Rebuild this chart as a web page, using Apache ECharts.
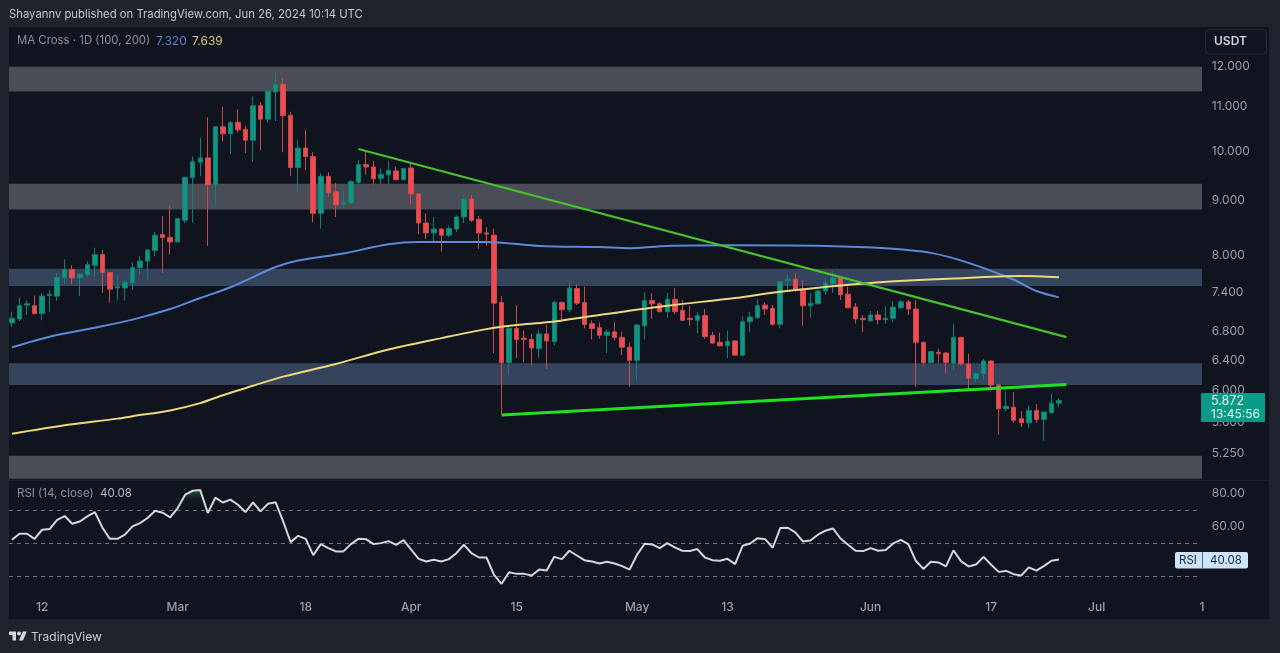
<!DOCTYPE html>
<html>
<head>
<meta charset="utf-8">
<title>MA Cross 1D</title>
<style>
    html, body { margin: 0; padding: 0; background: #1e222a; }
    #mychart { width: 1280px; height: 653px; }
</style>
<script src="https://cdn.jsdelivr.net/npm/echarts@6/dist/echarts.min.js"></script>
</head>
<body>
<div id="mychart"></div>
<script>
// daily candles from Feb 8 2024, one row per day: open, close, low, high
var candles = [
    [6.93,7.00,6.87,7.10],[6.99,7.19,6.96,7.32],[7.20,7.22,7.05,7.28],[7.19,7.07,7.06,7.35],[7.07,7.34,6.97,7.39],
    [7.35,7.37,7.10,7.44],[7.34,7.64,7.27,7.71],[7.63,7.77,7.53,7.94],[7.77,7.63,7.53,7.84],[7.63,7.69,7.34,7.71],
    [7.68,7.85,7.65,7.91],[7.84,8.02,7.65,8.14],[8.02,7.72,7.39,8.10],[7.72,7.45,7.24,7.72],[7.47,7.49,7.27,7.68],
    [7.47,7.56,7.27,7.60],[7.55,7.80,7.44,7.89],[7.80,7.91,7.68,7.99],[7.91,8.10,7.60,8.10],[8.09,8.36,7.99,8.42],
    [8.37,8.32,7.71,8.71],[8.32,8.24,8.02,8.90],[8.24,8.66,8.24,8.68],[8.63,9.46,8.58,9.46],[9.45,9.78,8.58,9.89],
    [9.77,9.86,9.49,10.30],[9.86,9.31,8.17,10.75],[9.31,10.54,8.91,10.54],[10.54,10.38,10.21,11.00],[10.38,10.63,9.94,10.67],
    [10.64,10.47,10.41,10.94],[10.48,10.24,9.96,10.56],[10.24,11.02,9.78,11.24],[11.02,10.71,10.02,11.10],[10.71,11.37,10.63,11.42],
    [11.35,11.54,10.67,11.84],[11.54,10.79,9.98,11.69],[10.80,9.66,9.49,10.88],[9.66,10.07,9.18,10.24],[10.07,9.89,9.60,10.46],
    [9.89,8.76,8.59,9.98],[8.76,9.48,8.48,9.54],[9.48,9.16,9.08,9.56],[9.17,8.92,8.69,9.34],[8.93,8.96,8.87,9.19],
    [8.95,9.37,8.94,9.41],[9.36,9.72,9.31,9.82],[9.72,9.67,9.51,9.99],[9.67,9.43,9.31,9.80],[9.44,9.52,9.33,9.64],
    [9.51,9.60,9.33,9.80],[9.59,9.41,9.40,9.68],[9.41,9.64,9.41,9.65],[9.65,9.13,8.94,9.74],[9.13,8.58,8.38,9.14],
    [8.58,8.40,8.29,8.76],[8.40,8.47,8.24,8.69],[8.47,8.36,8.07,8.49],[8.36,8.48,8.32,8.53],[8.47,8.69,8.42,8.72],
    [8.69,9.03,8.58,9.11],[9.03,8.63,8.60,9.11],[8.65,8.40,8.12,8.71],[8.40,8.38,8.17,8.50],[8.36,7.23,6.50,8.48],
    [7.24,6.37,5.70,7.34],[6.37,6.85,6.20,6.90],[6.85,6.69,6.43,7.20],[6.71,6.69,6.37,6.82],[6.69,6.57,6.33,6.77],
    [6.56,6.77,6.43,6.83],[6.77,6.67,6.28,6.90],[6.66,7.24,6.61,7.27],[7.24,7.13,6.98,7.26],[7.13,7.47,7.09,7.57],
    [7.46,7.23,7.20,7.53],[7.24,6.91,6.85,7.49],[6.92,6.85,6.69,6.97],[6.86,6.75,6.70,6.94],[6.75,6.80,6.50,6.84],
    [6.80,6.72,6.68,6.94],[6.72,6.58,6.47,6.80],[6.58,6.40,6.05,6.65],[6.40,6.90,6.14,6.92],[6.89,7.27,6.69,7.40],
    [7.27,7.22,6.99,7.39],[7.22,7.10,7.09,7.25],[7.10,7.29,7.01,7.39],[7.29,7.10,7.06,7.47],[7.12,6.97,6.96,7.28],
    [7.00,6.98,6.89,7.19],[6.97,7.04,6.78,7.09],[7.04,6.73,6.70,7.14],[6.75,6.64,6.63,6.80],[6.65,6.60,6.59,6.79],
    [6.60,6.66,6.43,6.82],[6.67,6.47,6.46,6.68],[6.47,6.95,6.46,7.03],[6.95,7.02,6.80,7.10],[7.01,7.19,6.99,7.29],
    [7.20,7.14,7.05,7.24],[7.15,6.91,6.89,7.20],[6.91,7.57,6.85,7.57],[7.59,7.61,7.44,7.68],[7.61,7.45,7.41,7.71],
    [7.45,7.19,6.89,7.60],[7.19,7.23,7.01,7.39],[7.22,7.42,7.22,7.44],[7.42,7.55,7.36,7.63],[7.54,7.63,7.39,7.75],
    [7.64,7.36,7.28,7.66],[7.37,7.16,7.15,7.49],[7.17,6.99,6.92,7.23],[7.00,6.98,6.80,7.05],[6.96,7.05,6.96,7.11],
    [7.05,6.98,6.91,7.11],[6.98,7.00,6.92,7.18],[7.00,7.17,6.94,7.26],[7.16,7.25,7.14,7.28],[7.25,7.14,7.05,7.28],
    [7.14,6.65,6.05,7.28],[6.65,6.37,6.33,6.66],[6.37,6.52,6.36,6.53],[6.51,6.49,6.36,6.56],[6.50,6.37,6.23,6.51],
    [6.36,6.72,6.27,6.92],[6.72,6.35,6.33,6.73],[6.35,6.16,6.01,6.49],[6.15,6.22,6.11,6.24],[6.22,6.39,6.14,6.42],
    [6.39,6.07,6.00,6.40],[6.07,5.77,5.46,6.09],[5.77,5.80,5.74,5.99],[5.79,5.63,5.60,5.98],[5.65,5.60,5.55,5.74],
    [5.60,5.75,5.54,5.81],[5.75,5.64,5.60,5.83],[5.64,5.73,5.39,5.73],[5.72,5.84,5.71,5.96],[5.84,5.872,5.79,5.90]
];

var rsi = [
    52.0,55.7,55.7,52.6,58.1,58.5,64.1,66.4,61.7,63.1,66.2,68.8,59.5,52.6,52.6,55.1,60.1,62.1,65.2,69.6,
    68.4,65.6,71.2,79.3,81.7,82.1,68.2,77.5,74.6,76.3,73.2,68.8,74.6,69.2,73.8,74.8,63.1,50.6,54.4,52.6,
    42.7,49.4,47.0,45.0,45.0,49.4,52.6,52.4,49.4,50.0,51.2,49.0,51.8,46.0,40.5,38.9,39.9,38.9,40.3,43.9,
    49.0,43.9,41.3,41.3,30.8,25.4,32.4,31.4,31.4,30.4,34.0,33.4,41.7,40.3,45.4,42.5,39.7,38.9,37.7,38.7,
    37.7,36.1,34.0,43.0,49.6,49.2,47.0,50.0,47.4,45.4,45.2,46.4,41.3,39.7,39.3,40.5,37.3,48.4,49.8,53.0,
    52.4,47.2,59.1,59.3,56.5,51.0,51.6,55.1,57.5,58.9,52.8,49.0,45.4,45.2,47.0,45.4,45.8,49.8,52.0,49.4,
    39.3,34.4,38.7,38.3,35.9,45.6,39.1,35.9,37.1,41.7,36.9,32.6,33.2,31.2,30.4,35.3,33.4,36.1,39.3,40.08
];

var ma100Index = [0,5,11,16,21,25,29,35,38,44,50,54,63,70,78,82,87,96,108,116,122,127,133,136,139];
var ma100 = [6.58,6.73,6.86,6.98,7.14,7.31,7.48,7.81,7.92,8.04,8.20,8.24,8.24,8.17,8.15,8.13,8.17,8.18,8.17,8.13,8.05,7.88,7.60,7.42,7.32];
var ma200Index = [0,7,14,16,21,25,28,32,36,43,50,57,63,67,71,78,87,96,102,114,125,134,139];
var ma200 = [5.47,5.57,5.65,5.68,5.75,5.84,5.94,6.06,6.18,6.35,6.55,6.71,6.84,6.90,6.94,7.05,7.19,7.31,7.41,7.55,7.62,7.66,7.64];

// hand drawn trend lines, candle number and price at both ends
var upperTrendIndex = [46, 140];
var upperTrend = [10.05, 6.725];
var lowerTrendIndex = [65, 140];
var lowerTrend = [5.693, 6.076];

// supply and demand zones
var zoneTop = [11.98, 9.33, 7.78, 6.36, 5.22];
var zoneBottom = [11.36, 8.83, 7.50, 6.07, 4.97];
var zoneColors = ['#4a4d55', '#4a4d55', '#35445c', '#35445c', '#4a4d55'];

var priceTicks = [12, 11, 10, 9, 8, 7.4, 6.8, 6.4, 6, 5.6, 5.25];
var rsiTicks = [60, 80];
var rsiGuides = [70, 50, 30];
var dateTicks = ['2024-02-12', '2024-03-01', '2024-03-18', '2024-04-01', '2024-04-15', '2024-05-01', '2024-05-13', '2024-06-01', '2024-06-17', '2024-07-01', '2024-07-15'];
var dateLabels = ['12', 'Mar', '18', 'Apr', '15', 'May', '13', 'Jun', '17', 'Jul', '1'];

var GREEN = '#0f9582';
var RED = '#f04c4f';
var FONT = 'Inter, "Noto Sans", sans-serif';

var days = [];
for (var d = 0; d < 159; d++) {
    days.push(new Date(Date.UTC(2024, 1, 8 + d)).toISOString().slice(0, 10));
}

function pairs(index, values) {
    return index.map(function (n, k) {
        return [days[n], values[k]];
    });
}

function renderZone(params, api) {
    var grid = params.coordSys;
    var y0 = api.coord([0, api.value(0)])[1];
    var y1 = api.coord([0, api.value(1)])[1];
    return {
        type: 'rect',
        shape: {x: grid.x + 0.8, y: y0, width: grid.width - 4.6, height: y1 - y0},
        style: {fill: zoneColors[params.dataIndex]}
    };
}

function renderGuide(params, api) {
    var grid = params.coordSys;
    var y = Math.round(api.coord([0, api.value(0)])[1]) + 0.5;
    return {
        type: 'line',
        shape: {x1: grid.x + 0.8, y1: y, x2: grid.x + grid.width - 7, y2: y},
        style: {stroke: '#6a6e76', lineWidth: 1, lineDash: [4, 4]}
    };
}

function text(str, x, y, color, font, align) {
    return {
        type: 'text',
        z: 100,
        style: {
            text: str,
            x: x,
            y: y,
            fill: color,
            font: font || ('12px ' + FONT),
            align: align || 'left',
            verticalAlign: 'middle'
        }
    };
}

var option = {
    animation: false,
    backgroundColor: '#1e222a',
    textStyle: {fontFamily: FONT},
    graphic: [
        {type: 'rect', z: -1, shape: {x: 9, y: 27, width: 1260, height: 592}, style: {fill: '#0f141e'}},
        {type: 'line', z: -1, shape: {x1: 9, y1: 480.5, x2: 1269, y2: 480.5}, style: {stroke: '#1b202a', lineWidth: 1}},
        text('Shayannv published on TradingView.com, Jun 26, 2024 10:14 UTC', 9, 15, '#c4c7cd', '11.3px ' + FONT),
        text('MA Cross · 1D (100, 200)', 17, 41, '#8d9199', '11.4px ' + FONT),
        text('7.320', 156, 41, '#5c7fc9', '12px ' + FONT),
        text('7.639', 192, 41, '#d8c67e', '12px ' + FONT),
        text('RSI (14, close)', 17, 494, '#8d9199', '11.5px ' + FONT),
        text('40.08', 100, 494, '#b9bcc2', '11.5px ' + FONT),
        {type: 'rect', z: 100, shape: {x: 1205.5, y: 29.5, width: 61, height: 24.5, r: 4}, style: {fill: 'none', stroke: '#252a35', lineWidth: 1}},
        text('USDT', 1214, 41.5, '#d1d4dc', '600 12px ' + FONT),
        {type: 'rect', z: 100, shape: {x: 1201, y: 393, width: 64, height: 29, r: 1}, style: {fill: '#0a9a87'}},
        text('5.872', 1211, 401, '#dff3ef', '12.5px ' + FONT),
        text('13:45:56', 1211, 414.5, '#dff3ef', '12px ' + FONT),
        {type: 'rect', z: 100, shape: {x: 1175, y: 552, width: 73, height: 16.5, r: 2}, style: {fill: '#cbe3fb'}},
        {type: 'line', z: 101, shape: {x1: 1202.5, y1: 552, x2: 1202.5, y2: 568.5}, style: {stroke: '#5d6a78', lineWidth: 1}},
        text('RSI', 1179, 560.5, '#1c2430', '11.5px ' + FONT),
        text('40.08', 1210, 560.5, '#1c2430', '11.5px ' + FONT),
        // TradingView logo
        {type: 'polygon', z: 100, shape: {points: [[16, 640.5], [12.5, 640.5], [12.5, 635], [9, 635], [9, 631.5], [16, 631.5]]}, style: {fill: '#d5d7dc'}},
        {type: 'polygon', z: 100, shape: {points: [[23, 640.5], [19, 640.5], [22.75, 631.5], [26.75, 631.5]]}, style: {fill: '#d5d7dc'}},
        {type: 'circle', z: 100, shape: {cx: 19, cy: 633.5, r: 2}, style: {fill: '#d5d7dc'}},
        text('TradingView', 31, 637, '#c9ccd2', '12px ' + FONT)
    ],
    grid: [
        {left: 8.2, top: 27, width: 1197.6, height: 453},
        {left: 8.2, top: 481, width: 1197.6, height: 115}
    ],
    xAxis: [
        {
            type: 'category',
            gridIndex: 0,
            data: days,
            axisLine: {show: false},
            axisTick: {show: false},
            axisLabel: {show: false},
            splitLine: {show: false}
        },
        {
            type: 'category',
            gridIndex: 1,
            data: days,
            axisLine: {show: false},
            axisTick: {show: false},
            splitLine: {show: false},
            axisLabel: {
                color: '#9a9ea6',
                fontSize: 12,
                fontWeight: 500,
                margin: 5,
                hideOverlap: false,
                interval: function (n, value) {
                    return dateTicks.indexOf(value) >= 0;
                },
                formatter: function (value) {
                    return dateLabels[dateTicks.indexOf(value)];
                }
            }
        }
    ],
    yAxis: [
        {
            type: 'log',
            logBase: 10,
            gridIndex: 0,
            position: 'right',
            min: 4.956,
            max: 13.04,
            axisLine: {show: false},
            axisTick: {show: false},
            splitLine: {show: false},
            minorTick: {show: false},
            axisLabel: {
                color: '#9a9ea6',
                fontSize: 12,
                margin: 6,
                customValues: priceTicks,
                formatter: function (value) {
                    return value.toFixed(3);
                }
            }
        },
        {
            type: 'value',
            gridIndex: 1,
            position: 'right',
            min: 18,
            max: 87.6,
            axisLine: {show: false},
            axisTick: {show: false},
            splitLine: {show: false},
            axisLabel: {
                color: '#9a9ea6',
                fontSize: 12,
                margin: 6,
                customValues: rsiTicks,
                formatter: function (value) {
                    return value.toFixed(2);
                }
            }
        }
    ],
    series: [
        {
            name: 'zones',
            type: 'custom',
            z: 1,
            xAxisIndex: 0,
            yAxisIndex: 0,
            encode: {y: [0, 1]},
            renderItem: renderZone,
            data: zoneTop.map(function (v, k) {
                return [v, zoneBottom[k]];
            })
        },
        {
            name: 'candles',
            type: 'candlestick',
            z: 3,
            xAxisIndex: 0,
            yAxisIndex: 0,
            barWidth: 5,
            itemStyle: {
                color: GREEN,
                color0: RED,
                borderColor: '#12806f',
                borderColor0: '#c84a50',
                borderWidth: 1
            },
            data: candles
        },
        {
            name: 'MA 100',
            type: 'line',
            z: 4,
            xAxisIndex: 0,
            yAxisIndex: 0,
            smooth: 0.3,
            showSymbol: false,
            lineStyle: {color: '#5d89da', width: 2},
            data: pairs(ma100Index, ma100)
        },
        {
            name: 'MA 200',
            type: 'line',
            z: 4,
            xAxisIndex: 0,
            yAxisIndex: 0,
            smooth: 0.3,
            showSymbol: false,
            lineStyle: {color: '#efd77c', width: 2},
            data: pairs(ma200Index, ma200)
        },
        {
            name: 'upper trend',
            type: 'line',
            z: 5,
            xAxisIndex: 0,
            yAxisIndex: 0,
            showSymbol: false,
            lineStyle: {color: '#46c22c', width: 2.2},
            data: [[days[upperTrendIndex[0]], upperTrend[0]], [days[upperTrendIndex[1]], upperTrend[1]]]
        },
        {
            name: 'lower trend',
            type: 'line',
            z: 5,
            xAxisIndex: 0,
            yAxisIndex: 0,
            showSymbol: false,
            lineStyle: {color: '#21e01f', width: 3},
            data: [[days[lowerTrendIndex[0]], lowerTrend[0]], [days[lowerTrendIndex[1]], lowerTrend[1]]]
        },
        {
            name: 'rsi guides',
            type: 'custom',
            z: 1,
            xAxisIndex: 1,
            yAxisIndex: 1,
            encode: {y: 0},
            renderItem: renderGuide,
            data: rsiGuides.map(function (v) {
                return [v];
            })
        },
        {
            name: 'rsi overbought',
            type: 'line',
            z: 2,
            xAxisIndex: 1,
            yAxisIndex: 1,
            showSymbol: false,
            lineStyle: {width: 0},
            areaStyle: {
                origin: 70,
                color: {
                    type: 'linear', x: 0, y: 0, x2: 0, y2: 1,
                    colorStops: [
                        {offset: 0, color: 'rgba(46,140,60,0.75)'},
                        {offset: 0.45, color: 'rgba(46,140,60,0.08)'},
                        {offset: 1, color: 'rgba(46,140,60,0)'}
                    ]
                }
            },
            data: rsi.map(function (v) {
                return Math.max(v, 70);
            })
        },
        {
            name: 'RSI',
            type: 'line',
            z: 3,
            xAxisIndex: 1,
            yAxisIndex: 1,
            showSymbol: false,
            lineStyle: {color: '#d3d6db', width: 2},
            data: rsi
        }
    ]
};

var mychart = echarts.init(document.getElementById('mychart'));
mychart.setOption(option);
</script>
</body>
</html>
